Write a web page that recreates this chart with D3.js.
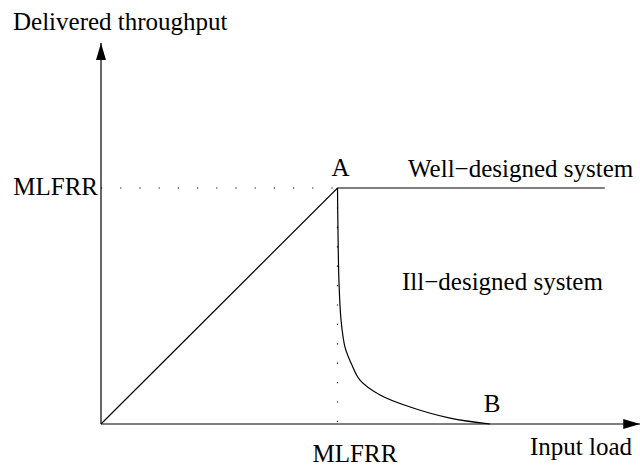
<!DOCTYPE html>
<html lang="en">
<head>
  <meta charset="UTF-8">
  <script src="https://d3js.org/d3.v7.min.js"></script>
  <title>Throughput vs input load</title>
  <style>
    body { margin: 0; background: white; }
    text { font-family: "Liberation Serif", "Times New Roman", serif; font-size: 25px; fill: #000; }
  </style>
</head>
<body>
<script>
  // Load / throughput in units of MLFRR
  const mlfrr = 1;
  const wellDesigned = [[0, 0], [1, 1], [2.13, 1]];
  const illDesigned = [
    [1, 1], [1.002, 0.82], [1.006, 0.61], [1.015, 0.44], [1.032, 0.325],
    [1.061, 0.25], [1.095, 0.186], [1.18, 0.123], [1.307, 0.072],
    [1.476, 0.025], [1.645, 0]
  ];
  const axisMax = { x: 2.28, y: 1.614 };

  const width = 640, height = 468;
  const svg = d3.select("body").append("svg")
    .attr("width", width)
    .attr("height", height);

  const x = d3.scaleLinear().domain([0, 1]).range([101, 337.5]);
  const y = d3.scaleLinear().domain([0, 1]).range([424, 188]);

  // arrow heads
  svg.append("defs").append("marker")
    .attr("id", "arrow")
    .attr("viewBox", "0 -5 17 10")
    .attr("refX", 17)
    .attr("refY", 0)
    .attr("orient", "auto")
    .attr("markerUnits", "userSpaceOnUse")
    .attr("markerWidth", 17)
    .attr("markerHeight", 10)
    .append("path")
    .attr("d", "M0,-5L17,0L0,5Z")
    .attr("fill", "#000");

  // axes
  svg.append("line")
    .attr("x1", x(0)).attr("y1", y(0))
    .attr("x2", x(axisMax.x)).attr("y2", y(0))
    .attr("stroke", "#000").attr("stroke-width", 1.2)
    .attr("marker-end", "url(#arrow)");
  svg.append("line")
    .attr("x1", x(0)).attr("y1", y(0))
    .attr("x2", x(0)).attr("y2", y(axisMax.y))
    .attr("stroke", "#000").attr("stroke-width", 1.2)
    .attr("marker-end", "url(#arrow)");

  // dotted guides to A
  svg.append("path")
    .attr("d", `M${x(0)},${y(mlfrr)}H${x(mlfrr)}`)
    .attr("stroke", "#000").attr("stroke-width", 1.2)
    .attr("stroke-dasharray", "1.2,18");
  svg.append("path")
    .attr("d", `M${x(mlfrr)},${y(mlfrr)}V${y(0)}`)
    .attr("stroke", "#000").attr("stroke-width", 1.2)
    .attr("stroke-dasharray", "1.2,18.2");

  const line = d3.line().x(d => x(d[0])).y(d => y(d[1]));

  svg.append("path")
    .datum(wellDesigned)
    .attr("d", line)
    .attr("fill", "none").attr("stroke", "#000").attr("stroke-width", 1.2);

  svg.append("path")
    .datum(illDesigned)
    .attr("d", line.curve(d3.curveCatmullRom))
    .attr("fill", "none").attr("stroke", "#000").attr("stroke-width", 1.2);

  // labels
  const labels = [
    { t: "Delivered throughput", x: 13, y: 30 },
    { t: "MLFRR", x: 98, y: 195, a: "end" },
    { t: "A", x: 340.5, y: 176, a: "middle" },
    { t: "Well\u2212designed system", x: 408, y: 177 },
    { t: "Ill\u2212designed system", x: 402, y: 290 },
    { t: "B", x: 492, y: 412, a: "middle" },
    { t: "MLFRR", x: 355, y: 462, a: "middle" },
    { t: "Input load", x: 530, y: 455 }
  ];
  svg.selectAll("text.lbl")
    .data(labels)
    .enter().append("text")
    .attr("class", "lbl")
    .attr("x", d => d.x)
    .attr("y", d => d.y)
    .attr("text-anchor", d => d.a || "start")
    .text(d => d.t);
</script>
</body>
</html>
